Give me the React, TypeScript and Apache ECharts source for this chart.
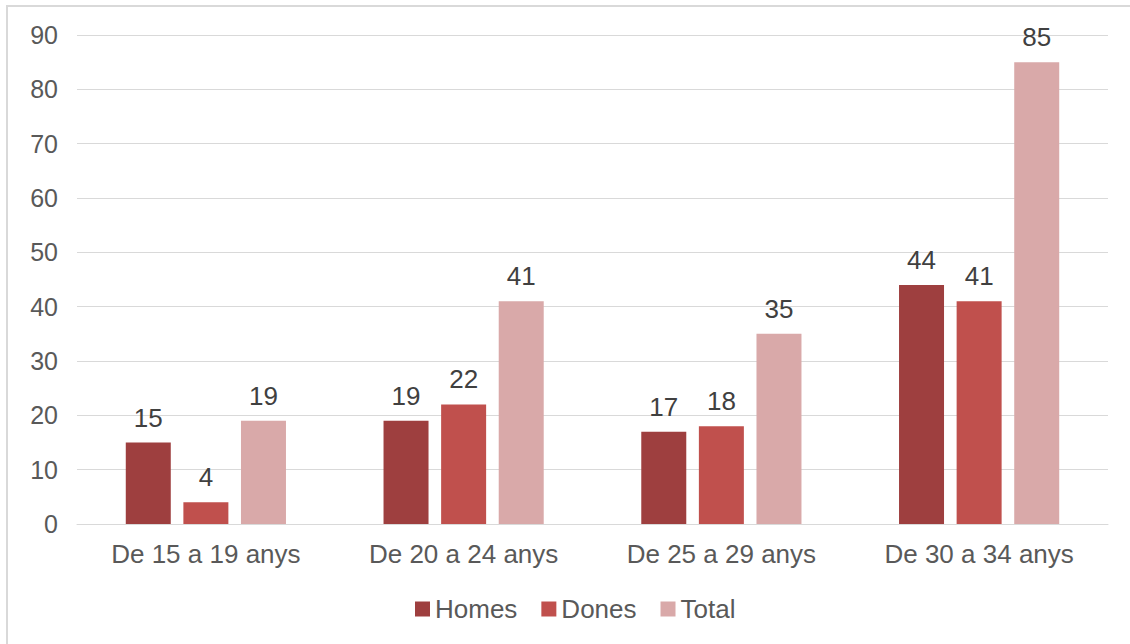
import React, { useEffect, useRef } from "react";
import * as echarts from "echarts";

const categories = ["De 15 a 19 anys", "De 20 a 24 anys", "De 25 a 29 anys", "De 30 a 34 anys"];
const homes = [15, 19, 17, 44];
const dones = [4, 22, 18, 41];
const total = [19, 41, 35, 85];
const seriesNames = ["Homes", "Dones", "Total"];
const colors = ["#9e3f3f", "#c0504d", "#d9a9a9"];

export default function App() {
  const ref = useRef<HTMLDivElement>(null);
  useEffect(() => {
    const chart = echarts.init(ref.current!, undefined, { renderer: "svg" });
    const font = "'Liberation Sans', Arial, sans-serif";
    const mk = (name: string, data: number[], color: string) => ({
      name,
      type: "bar",
      data,
      barWidth: 45,
      barGap: "28%",
      itemStyle: { color },
      label: {
        show: true,
        position: "top",
        distance: 12,
        color: "#404040",
        fontSize: 26,
        fontFamily: font,
      },
    });
    chart.setOption({
      animation: false,
      textStyle: { fontFamily: font },
      graphic: [
        {
          type: "rect",
          shape: { x: 7, y: 6, width: 1140, height: 660 },
          style: { fill: "none", stroke: "#d9d9d9", lineWidth: 2 },
          silent: true,
        },
      ],
      grid: { left: 77, right: 22, top: 35, bottom: 120, containLabel: false },
      legend: {
        data: seriesNames,
        top: 591,
        left: 410,
        itemWidth: 15,
        itemHeight: 15,
        itemGap: 24,
        icon: "rect",
        textStyle: { color: "#595959", fontSize: 26, fontFamily: font },
      },
      xAxis: {
        type: "category",
        data: categories,
        axisLine: { lineStyle: { color: "#d9d9d9", width: 1 } },
        axisTick: { show: false },
        axisLabel: { color: "#595959", fontSize: 26, margin: 17, fontFamily: font },
      },
      yAxis: {
        type: "value",
        min: 0,
        max: 90,
        interval: 10,
        axisLine: { show: false },
        axisTick: { show: false },
        splitLine: { lineStyle: { color: "#d9d9d9", width: 1 } },
        axisLabel: { color: "#595959", fontSize: 25, margin: 19, fontFamily: font },
      },
      series: [mk(seriesNames[0], homes, colors[0]), mk(seriesNames[1], dones, colors[1]), mk(seriesNames[2], total, colors[2])],
    });
    return () => chart.dispose();
  }, []);
  return (
    <div
      ref={ref}
      style={{ position: "fixed", left: 0, top: 0, width: 1130, height: 644, background: "#fff" }}
    />
  );
}
